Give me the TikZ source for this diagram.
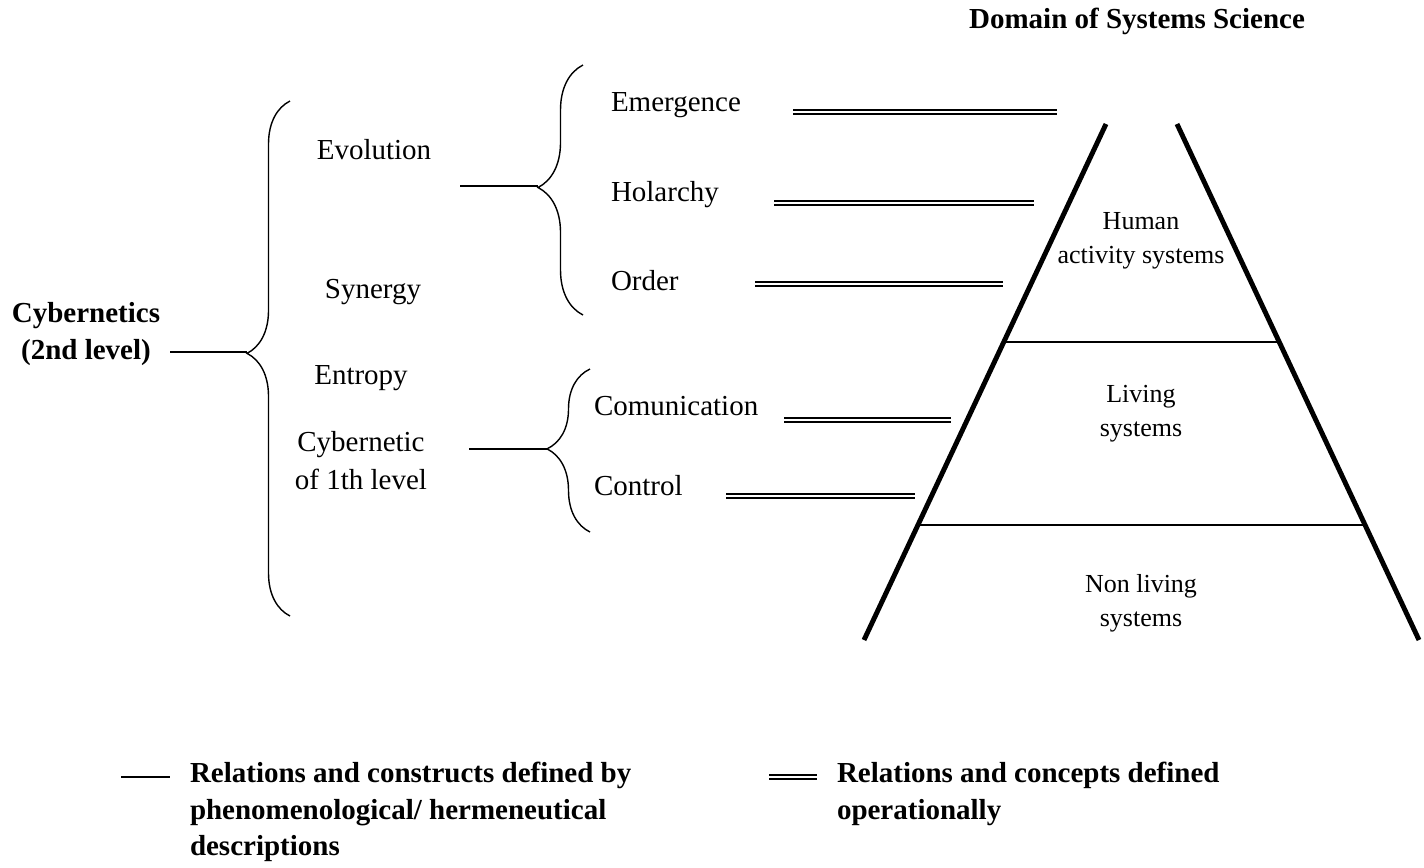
\documentclass[tikz,border=0pt]{standalone}
\usepackage{fontspec}
\setmainfont{Liberation Serif}
\usetikzlibrary{decorations.pathreplacing}
\begin{document}
\begin{tikzpicture}[
		x=0.02cm, y=-0.02cm,
		every node/.style={inner sep=0pt, outer sep=0pt, font=\fontsize{16.5}{21.6}\selectfont},
		term/.style={anchor=base west},
		concept/.style={anchor=base},
		heading/.style={align=center, font=\bfseries\fontsize{16.5}{21.6}\selectfont},
		layer/.style={align=center, font=\fontsize{14.8}{19.2}\selectfont},
		legendtext/.style={anchor=base west, align=left, font=\bfseries\fontsize{16.5}{20.5}\selectfont},
		curly/.style={line width=0.8pt, decorate, decoration={brace, amplitude=#1, aspect=0.51}},
		link/.style={line width=0.8pt},
		oper/.style={double, line width=1.05pt, double distance=1.1pt},
		side/.style={line width=2.8pt},
		floor/.style={line width=0.7pt}
		]
		\useasboundingbox (0,0) rectangle (1424,867);

		% left column
		\node[heading] (cyb2) at (86,334) {Cybernetics\\(2nd level)};
		\node[concept] (evo) at (374,159) {Evolution};
		\node[concept] (syn) at (373,298) {Synergy};
		\node[concept] (ent) at (361,384) {Entropy};
		\node[align=center] (cyb1) at (361,461) {Cybernetic\\of 1th level};

		\coordinate (cyb2R) at (170,352);
		\coordinate (tip1) at (247,352);
		\draw[link] (cyb2R) -- (tip1);
		\draw[curly=0.86cm] (290,616) -- (290,101);

		% upper group
		\coordinate (evoR) at (460,186);
		\coordinate (tip2) at (538,186);
		\draw[link] (evoR) -- (tip2);
		\draw[curly=0.9cm] (583,315) -- (583,65);
		\node[term] (emg) at (611,111) {Emergence};
		\node[term] (hol) at (611,201) {Holarchy};
		\node[term] (ord) at (611,290) {Order};

		% lower group
		\coordinate (cyb1R) at (469,449);
		\coordinate (tip3) at (547,449);
		\draw[link] (cyb1R) -- (tip3);
		\draw[curly=0.86cm] (590,532) -- (590,369);
		\node[term] (com) at (594,415) {Comunication};
		\node[term] (ctl) at (594,495) {Control};

		% operational relations
		\coordinate (emgA) at (793,112);  \coordinate (emgB) at (1057,112);
		\coordinate (holA) at (774,203);  \coordinate (holB) at (1034,203);
		\coordinate (ordA) at (755,284);  \coordinate (ordB) at (1003,284);
		\coordinate (comA) at (784,420);  \coordinate (comB) at (951,420);
		\coordinate (ctlA) at (726,496);  \coordinate (ctlB) at (915,496);
		\foreach \k in {emg,hol,ord,com,ctl}
			\draw[oper] (\k A) -- (\k B);

		% pyramid
		\node[heading, anchor=base] (domain) at (1137,28) {Domain of Systems Science};
		\coordinate (apexL) at (1106,124);
		\coordinate (apexR) at (1177,124);
		\coordinate (baseL) at (864,640);
		\coordinate (baseR) at (1419,640);
		\draw[side] (apexL) -- (baseL);
		\draw[side] (apexR) -- (baseR);
		\path (apexL) -- (baseL) coordinate[pos=0.4225] (f1L) coordinate[pos=0.7771] (f2L);
		\path (apexR) -- (baseR) coordinate[pos=0.4225] (f1R) coordinate[pos=0.7771] (f2R);
		\draw[floor] (f1L) -- (f1R);
		\draw[floor] (f2L) -- (f2R);
		\node[layer] (human) at (1141,241) {Human\\activity systems};
		\node[layer] (living) at (1141,414) {Living\\systems};
		\node[layer] (nonliving) at (1141,603) {Non living\\systems};

		% legend
		\coordinate (keyA) at (121,777);
		\coordinate (keyB) at (170,777);
		\draw[link] (keyA) -- (keyB);
		\node[legendtext] (phen) at (190,855) {Relations and constructs defined by\\phenomenological/ hermeneutical\\descriptions};
		\coordinate (keyC) at (769,777);
		\coordinate (keyD) at (817,777);
		\draw[oper] (keyC) -- (keyD);
		\node[legendtext] (opdef) at (837,819) {Relations and concepts defined\\operationally};
\end{tikzpicture}
\end{document}
